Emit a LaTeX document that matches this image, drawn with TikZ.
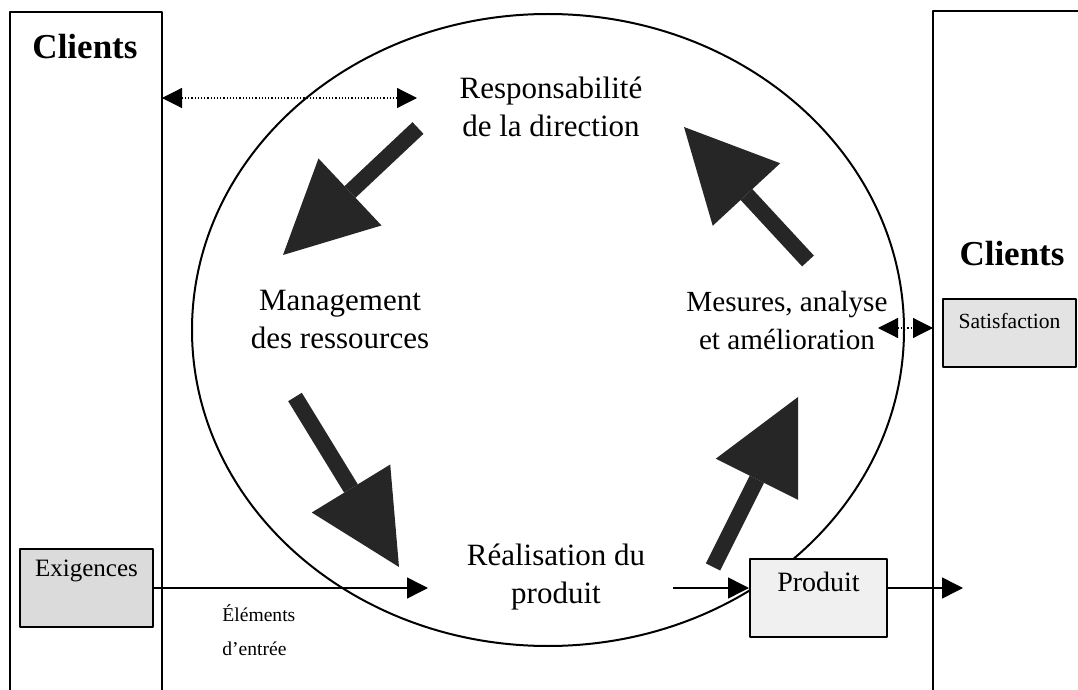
\documentclass[tikz,border=0pt]{standalone}
\usepackage{fontspec}
\setmainfont{Liberation Serif}
\usetikzlibrary{arrows.meta,positioning,shapes.geometric}

\begin{document}
\begin{tikzpicture}[x=0.5pt,y=-0.5pt,line join=bevel,
  lbl/.style={align=center,inner sep=0pt,font=\fontsize{15.5}{19}\selectfont},
  clients/.style={inner sep=0pt,anchor=base,font=\fontsize{17.5}{20}\selectfont\bfseries},
  greybox/.style={draw,line width=1pt,inner sep=0pt},
  boxtext/.style={inner sep=0pt},
  thinarrow/.style={line width=0.75pt,-{Triangle[length=10.5pt,width=10.5pt]}},
  dotarrow/.style={line width=0.6pt,densely dotted,{Triangle[length=10pt,width=10pt]}-{Triangle[length=10pt,width=10pt]}},
  bigarrow/.style={line width=8pt,draw=black!85,-{Triangle[length=46pt,width=46pt,line width=0pt]}}]
  \useasboundingbox (0,0) rectangle (1078,690);
%%
  % Clients, left and right
  \draw[line width=0.9pt] (10,690) |- (162,12) -- (162,690);
  \draw[line width=0.9pt] (933,690) |- (1078,11);
  \node[clients] (clientsL) at (85,59) {Clients};
  \node[clients] (clientsR) at (1012,265) {Clients};
  % Node: ring
  \node[ellipse,draw,line width=1pt,minimum width=356pt,minimum height=316pt,inner sep=0pt] (ring) at (548,330) {};
  % Node: resp
  \node[lbl] (resp) at (551,107) {Responsabilité\\de la direction};
  % Node: mgmt
  \node[lbl] (mgmt) at (340,320) {Management\\des ressources};
  % Node: mesures
  \node[lbl,font=\fontsize{14.6}{19}\selectfont] (mesures) at (787,321) {Mesures, analyse\\et amélioration};
  % Node: real
  \node[lbl] (real) at (556,577) {Réalisation du\\produit};
  % Node: exig
  \node[greybox,fill=gray!28,minimum width=66.5pt,minimum height=39pt] (exig) at (86.5,588) {};
  \node[boxtext,font=\fontsize{12.5}{14}\selectfont] (exigtxt) at ([yshift=-11.5pt]exig.north) {Exigences};
  % Node: produit
  \node[greybox,fill=gray!12,minimum width=68.5pt,minimum height=39pt] (produit) at (818.5,598) {};
  \node[boxtext,font=\fontsize{14}{16}\selectfont] (produittxt) at ([yshift=-12pt]produit.north) {Produit};
  % Node: satisf
  \node[greybox,fill=gray!22,minimum width=66.5pt,minimum height=34pt] (satisf) at (1009.5,333) {};
  \node[boxtext,font=\fontsize{10.8}{12}\selectfont] (satisftxt) at ([yshift=-11.5pt]satisf.north) {Satisfaction};
  % Node: elem
  \node[anchor=north west,align=left,inner sep=0pt,font=\fontsize{9.8}{17}\selectfont] (elem) at (222,604) {Éléments\\d'entrée};
%
  % ends of the connectors
  \coordinate (lboxE) at (162,98);
  \coordinate (respW) at (417,98);
  \coordinate (ringE) at (878,328);
  \coordinate (rboxW) at (933,328);
  \coordinate (inTip) at (428,588);
  \coordinate (outTail) at (673,588);
  \coordinate (outTip) at (963,588);
  \coordinate (respOut) at (418,128);
  \coordinate (mgmtIn) at (283,255);
  \coordinate (mgmtOut) at (295,397);
  \coordinate (realIn) at (399,567);
  \coordinate (realOut) at (713,567);
  \coordinate (mesIn) at (798,397);
  \coordinate (mesOut) at (808,261);
  \coordinate (respIn) at (684,127);
  % Edge: clients <-> resp
  \draw[dotarrow] (lboxE) -- (respW);
  % Edge: mesures <-> satisf
  \draw[dotarrow] (ringE) -- (rboxW);
  % Edge: exig -> real
  \draw[thinarrow] (exig.east |- inTip) -- (inTip);
  % Edge: real -> produit
  \draw[thinarrow] (outTail) -- (outTail -| produit.west);
  % Edge: produit -> clients
  \draw[thinarrow] (produit.east |- outTail) -- (outTip);
  % the cycle
  \draw[bigarrow] (respOut) -- (mgmtIn);
  \draw[bigarrow] (mgmtOut) -- (realIn);
  \draw[bigarrow] (realOut) -- (mesIn);
  \draw[bigarrow] (mesOut) -- (respIn);
%
\end{tikzpicture}
\end{document}
